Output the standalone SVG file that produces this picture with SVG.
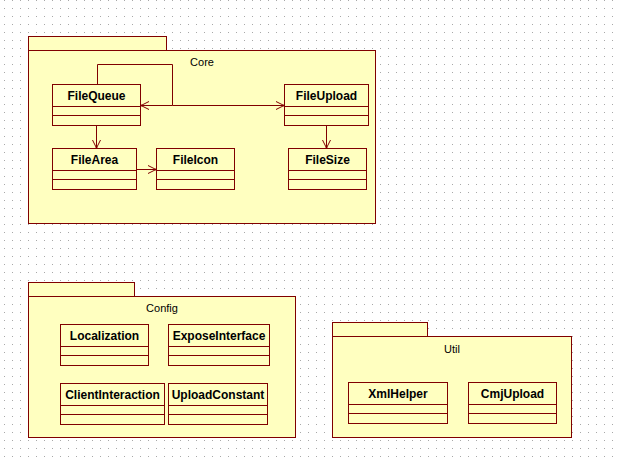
<svg xmlns="http://www.w3.org/2000/svg" width="619" height="458" viewBox="0 0 619 458">
<defs>
<pattern id="grid" x="0" y="0" width="8" height="8" patternUnits="userSpaceOnUse">
<rect x="4" y="0" width="1" height="1" fill="#a8a8a8"/>
</pattern>
<marker id="arr" viewBox="0 0 10 10" refX="9" refY="5" markerWidth="10" markerHeight="10" markerUnits="userSpaceOnUse" orient="auto-start-reverse">
<path d="M1,1 L9,5 L1,9" fill="none" stroke="#800000" stroke-width="1"/>
<circle cx="9" cy="5" r="1" fill="#800000"/>
</marker>
<style>
.pk{fill:#FFFFC0;stroke:#800000;stroke-width:1}
.cl{fill:#FFFFC0;stroke:#800000;stroke-width:1}
.ln{stroke:#800000;stroke-width:1;fill:none}
.cn{font-family:"Liberation Sans",Arial,sans-serif;font-size:12px;font-weight:bold;text-anchor:middle;fill:#000}
.pn{font-family:"Liberation Sans",Arial,sans-serif;font-size:11px;text-anchor:middle;fill:#000}
</style>
</defs>
<rect width="619" height="458" fill="#ffffff"/>
<rect width="619" height="458" fill="url(#grid)"/>

<g id="pkg-core">
<rect class="pk" x="28.5" y="36.5" width="138" height="14"/>
<rect class="pk" x="28.5" y="50.5" width="347" height="173"/>
<text class="pn" x="202" y="66">Core</text>
</g>
<g id="pkg-config">
<rect class="pk" x="28.5" y="282.5" width="106" height="14"/>
<rect class="pk" x="28.5" y="296.5" width="267" height="141"/>
<text class="pn" x="162" y="312">Config</text>
</g>
<g id="pkg-util">
<rect class="pk" x="332.5" y="322.5" width="95" height="14"/>
<rect class="pk" x="332.5" y="336.5" width="239" height="101"/>
<text class="pn" x="452" y="353">Util</text>
</g>

<g id="FileQueue">
<rect class="cl" x="52.5" y="84.5" width="88" height="41"/>
<path class="ln" d="M52.5,106.5H140.5M52.5,115.5H140.5"/>
<text class="cn" x="96.5" y="99.5">FileQueue</text>
</g>
<g id="FileUpload">
<rect class="cl" x="284.5" y="84.5" width="84" height="41"/>
<path class="ln" d="M284.5,106.5H368.5M284.5,115.5H368.5"/>
<text class="cn" x="326.5" y="99.5">FileUpload</text>
</g>
<g id="FileArea">
<rect class="cl" x="52.5" y="148.5" width="84" height="41"/>
<path class="ln" d="M52.5,170.5H136.5M52.5,179.5H136.5"/>
<text class="cn" x="94.5" y="163.5">FileArea</text>
</g>
<g id="FileIcon">
<rect class="cl" x="156.5" y="148.5" width="78" height="41"/>
<path class="ln" d="M156.5,170.5H234.5M156.5,179.5H234.5"/>
<text class="cn" x="195.5" y="163.5">FileIcon</text>
</g>
<g id="FileSize">
<rect class="cl" x="288.5" y="148.5" width="78" height="41"/>
<path class="ln" d="M288.5,170.5H366.5M288.5,179.5H366.5"/>
<text class="cn" x="327.5" y="163.5">FileSize</text>
</g>

<g id="Localization">
<rect class="cl" x="60.5" y="324.5" width="88" height="41"/>
<path class="ln" d="M60.5,346.5H148.5M60.5,355.5H148.5"/>
<text class="cn" x="104.5" y="339.5">Localization</text>
</g>
<g id="ExposeInterface">
<rect class="cl" x="168.5" y="324.5" width="101" height="41"/>
<path class="ln" d="M168.5,346.5H269.5M168.5,355.5H269.5"/>
<text class="cn" x="219" y="339.5">ExposeInterface</text>
</g>
<g id="ClientInteraction">
<rect class="cl" x="60.5" y="383.5" width="104" height="41"/>
<path class="ln" d="M60.5,405.5H164.5M60.5,414.5H164.5"/>
<text class="cn" x="112.5" y="398.5">ClientInteraction</text>
</g>
<g id="UploadConstant">
<rect class="cl" x="168.5" y="383.5" width="99" height="41"/>
<path class="ln" d="M168.5,405.5H267.5M168.5,414.5H267.5"/>
<text class="cn" x="218" y="398.5">UploadConstant</text>
</g>

<g id="XmlHelper">
<rect class="cl" x="348.5" y="382.5" width="99" height="41"/>
<path class="ln" d="M348.5,404.5H447.5M348.5,413.5H447.5"/>
<text class="cn" x="398" y="397.5">XmlHelper</text>
</g>
<g id="CmjUpload">
<rect class="cl" x="468.5" y="382.5" width="88" height="41"/>
<path class="ln" d="M468.5,404.5H556.5M468.5,413.5H556.5"/>
<text class="cn" x="512.5" y="397.5">CmjUpload</text>
</g>

<g id="connectors">
<path class="ln" d="M97.5,84.5V64.5H172.5V105.5H141" marker-end="url(#arr)"/>
<path class="ln" d="M172.5,105.5H284" marker-end="url(#arr)"/>
<path class="ln" d="M96.5,125.5V148" marker-end="url(#arr)"/>
<path class="ln" d="M136.5,169.5H156" marker-end="url(#arr)"/>
<path class="ln" d="M326.5,125.5V148" marker-end="url(#arr)"/>
</g>
</svg>
